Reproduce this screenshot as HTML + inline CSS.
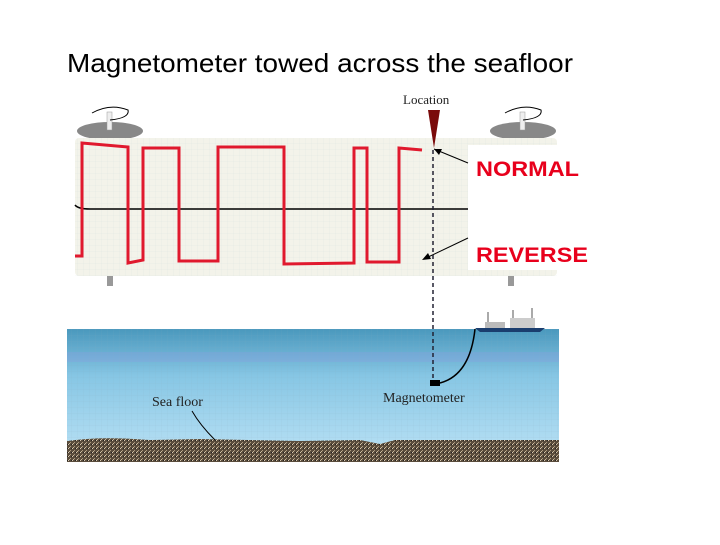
<!DOCTYPE html>
<html><head><style>
body{margin:0;background:#fff;width:720px;height:540px;overflow:hidden;font-family:"Liberation Sans",sans-serif}
</style></head><body>
<svg width="720" height="540" xmlns="http://www.w3.org/2000/svg">
<defs>
<linearGradient id="w" x1="0" y1="0" x2="0" y2="1">
<stop offset="0" stop-color="#4a98bd"/><stop offset="0.35" stop-color="#86c6e4"/><stop offset="1" stop-color="#bde3f6"/>
</linearGradient>
<pattern id="g" width="6" height="6" patternUnits="userSpaceOnUse"><path d="M6 0V6M0 6H6" stroke="#8ab" stroke-width="0.3" fill="none"/></pattern>
<pattern id="r" width="4" height="4" patternUnits="userSpaceOnUse"><rect width="4" height="4" fill="#5a4c3c"/><rect x="0" y="0" width="1" height="1" fill="#d9c9b0"/><rect x="2" y="2" width="1" height="1" fill="#aa9a80"/><rect x="3" y="0" width="1" height="1" fill="#222"/><rect x="1" y="3" width="1" height="1" fill="#c8b89c"/></pattern>
</defs>
<text x="67" y="72" font-size="26" fill="#000" textLength="506" lengthAdjust="spacingAndGlyphs">Magnetometer towed across the seafloor</text>
<!-- rollers -->
<ellipse cx="110" cy="131" rx="33" ry="9" fill="#888"/><rect x="107" y="112" width="5" height="18" fill="#eee" stroke="#999" stroke-width="0.5"/>
<ellipse cx="523" cy="131" rx="33" ry="9" fill="#888"/><rect x="520" y="112" width="5" height="18" fill="#eee" stroke="#999" stroke-width="0.5"/>
<path d="M92 113 Q110 103 128 110 Q130 118 110 120" fill="none" stroke="#000"/>
<path d="M505 113 Q523 103 541 110 Q543 118 523 120" fill="none" stroke="#000"/>
<rect x="107" y="275" width="6" height="11" fill="#999"/><rect x="508" y="275" width="6" height="11" fill="#999"/>
<!-- paper -->
<rect x="75" y="138" width="482" height="138" rx="4" fill="#f3f3ea"/>
<rect x="75" y="138" width="482" height="138" fill="url(#g)" opacity="0.3"/>
<path d="M75 205 Q78 209 90 209 L470 209" stroke="#000" stroke-width="1.5" fill="none"/>
<polyline points="75,256 82,256 82,143 128,147 128,263 143,260 143,148 179,148 179,261 218,261 218,147 284,147 284,264 354,263 354,148 367,148 367,262 399,262 399,148 422,150" fill="none" stroke="#e0192e" stroke-width="3"/>
<!-- white box -->
<rect x="468" y="145" width="135" height="125" fill="#fff"/>
<text x="476" y="176" font-size="21" font-weight="bold" fill="#e8001c" textLength="103" lengthAdjust="spacingAndGlyphs">NORMAL</text>
<text x="476" y="262" font-size="21" font-weight="bold" fill="#e8001c" textLength="112" lengthAdjust="spacingAndGlyphs">REVERSE</text>
<line x1="468" y1="163" x2="434" y2="149" stroke="#000"/><path d="M434 149 L442 149 L439 155Z" fill="#000"/>
<line x1="468" y1="238" x2="424" y2="259" stroke="#000"/><path d="M422 260 L428 253 L431 259Z" fill="#000"/>
<!-- location -->
<text x="403" y="104" font-size="13" font-family="Liberation Serif,serif" fill="#222">Location</text>
<path d="M428 110 L440 110 L434 148Z" fill="#7a0a0a"/>
<!-- water -->
<rect x="67" y="329" width="492" height="133" fill="url(#w)"/>
<rect x="67" y="329" width="492" height="133" fill="url(#g)" opacity="0.5"/>
<rect x="67" y="352" width="492" height="10" fill="#8a9ae0" opacity="0.3"/>
<path d="M67 441 Q100 436 150 440 L200 439 L300 441 L360 440 L380 444 L395 440 L559 440 L559 462 L67 462Z" fill="url(#r)"/>
<!-- ship -->
<path d="M475 328 L545 328 L540 332 L480 332Z" fill="#1a3d6e"/>
<rect x="485" y="322" width="20" height="6" fill="#bbb"/><rect x="510" y="318" width="25" height="10" fill="#ccc"/>
<line x1="488" y1="312" x2="488" y2="322" stroke="#555"/><line x1="513" y1="310" x2="513" y2="318" stroke="#555"/><line x1="532" y1="308" x2="532" y2="318" stroke="#555"/>
<path d="M475 329 Q470 375 440 383" fill="none" stroke="#000" stroke-width="1.5"/>
<line x1="433" y1="150" x2="433" y2="382" stroke="#223" stroke-width="1.5" stroke-dasharray="4,3"/>
<rect x="430" y="380" width="10" height="6" fill="#000"/>
<text x="383" y="402" font-size="14" font-family="Liberation Serif,serif" fill="#222">Magnetometer</text>
<text x="152" y="406" font-size="14" font-family="Liberation Serif,serif" fill="#222">Sea floor</text>
<path d="M192 411 Q200 425 215 440" fill="none" stroke="#000"/>
</svg>
</body></html>
